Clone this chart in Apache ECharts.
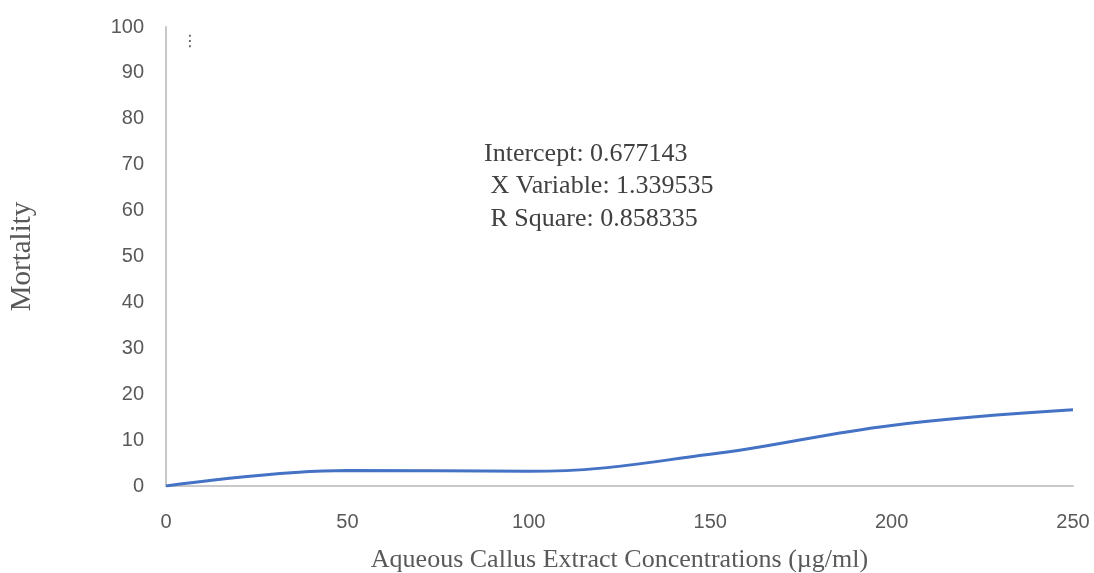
<!DOCTYPE html>
<html><head><meta charset="utf-8">
<script src="https://cdn.jsdelivr.net/npm/echarts@6/dist/echarts.min.js"></script>
<style>html,body{margin:0;padding:0;background:#fff}#c{width:1094px;height:573px}</style>
</head><body><div id="c"></div>
<script>
const concentrations = [0, 50, 100, 150, 200, 250];
const mortality = [0, 3.4, 3.2, 6.9, 13.2, 16.6];
const yTicks = [0, 10, 20, 30, 40, 50, 60, 70, 80, 90, 100];
const xTicks = [0, 50, 100, 150, 200, 250];
const annotations = ['Intercept: 0.677143', ' X Variable: 1.339535', ' R Square: 0.858335'];

const chart = echarts.init(document.getElementById('c'));
const serif = '"Liberation Serif", "Times New Roman", serif';
const sans = '"Liberation Sans", "DejaVu Sans", sans-serif';
chart.setOption({
  animation: false,
  grid: { left: 166, right: 21, top: 27, bottom: 87, containLabel: false, outerBoundsMode: 'none' },
  xAxis: {
    type: 'value', min: xTicks[0], max: xTicks[xTicks.length - 1], interval: 50,
    name: 'Aqueous Callus Extract Concentrations (\u00b5g/ml)',
    nameLocation: 'middle', nameGap: 61,
    nameTextStyle: { fontFamily: serif, fontSize: 26, color: '#595959' },
    axisLine: { show: true, lineStyle: { color: '#c8c8c8', width: 2 } },
    axisTick: { show: false }, splitLine: { show: false },
    axisLabel: { margin: 26, fontFamily: sans, fontSize: 20, color: '#595959' }
  },
  yAxis: {
    type: 'value', min: yTicks[0], max: yTicks[yTicks.length - 1], interval: 10,
    name: 'Mortality', nameLocation: 'middle', nameGap: 129, nameRotate: 90,
    nameTextStyle: { fontFamily: serif, fontSize: 29, color: '#595959' },
    axisLine: { show: true, lineStyle: { color: '#c8c8c8', width: 2 } },
    axisTick: { show: false }, splitLine: { show: false },
    axisLabel: { margin: 22, fontFamily: sans, fontSize: 20, color: '#595959' }
  },
  series: [{
    type: 'line', smooth: 0.4, symbol: 'none',
    data: concentrations.map((x, i) => [x, mortality[i]]),
    lineStyle: { color: '#4472C4', width: 3 }
  }],
  graphic: [
    ...annotations.map((t, i) => ({
      type: 'text', left: 484, top: 141 + i * 32.5,
      style: { text: t, font: '26px ' + serif, fill: '#404040' }
    })),
    { type: 'text', left: 182, top: 34, style: { text: '\u22ee', font: '16px "DejaVu Sans"', fill: '#595959' } }
  ]
});
</script></body></html>
